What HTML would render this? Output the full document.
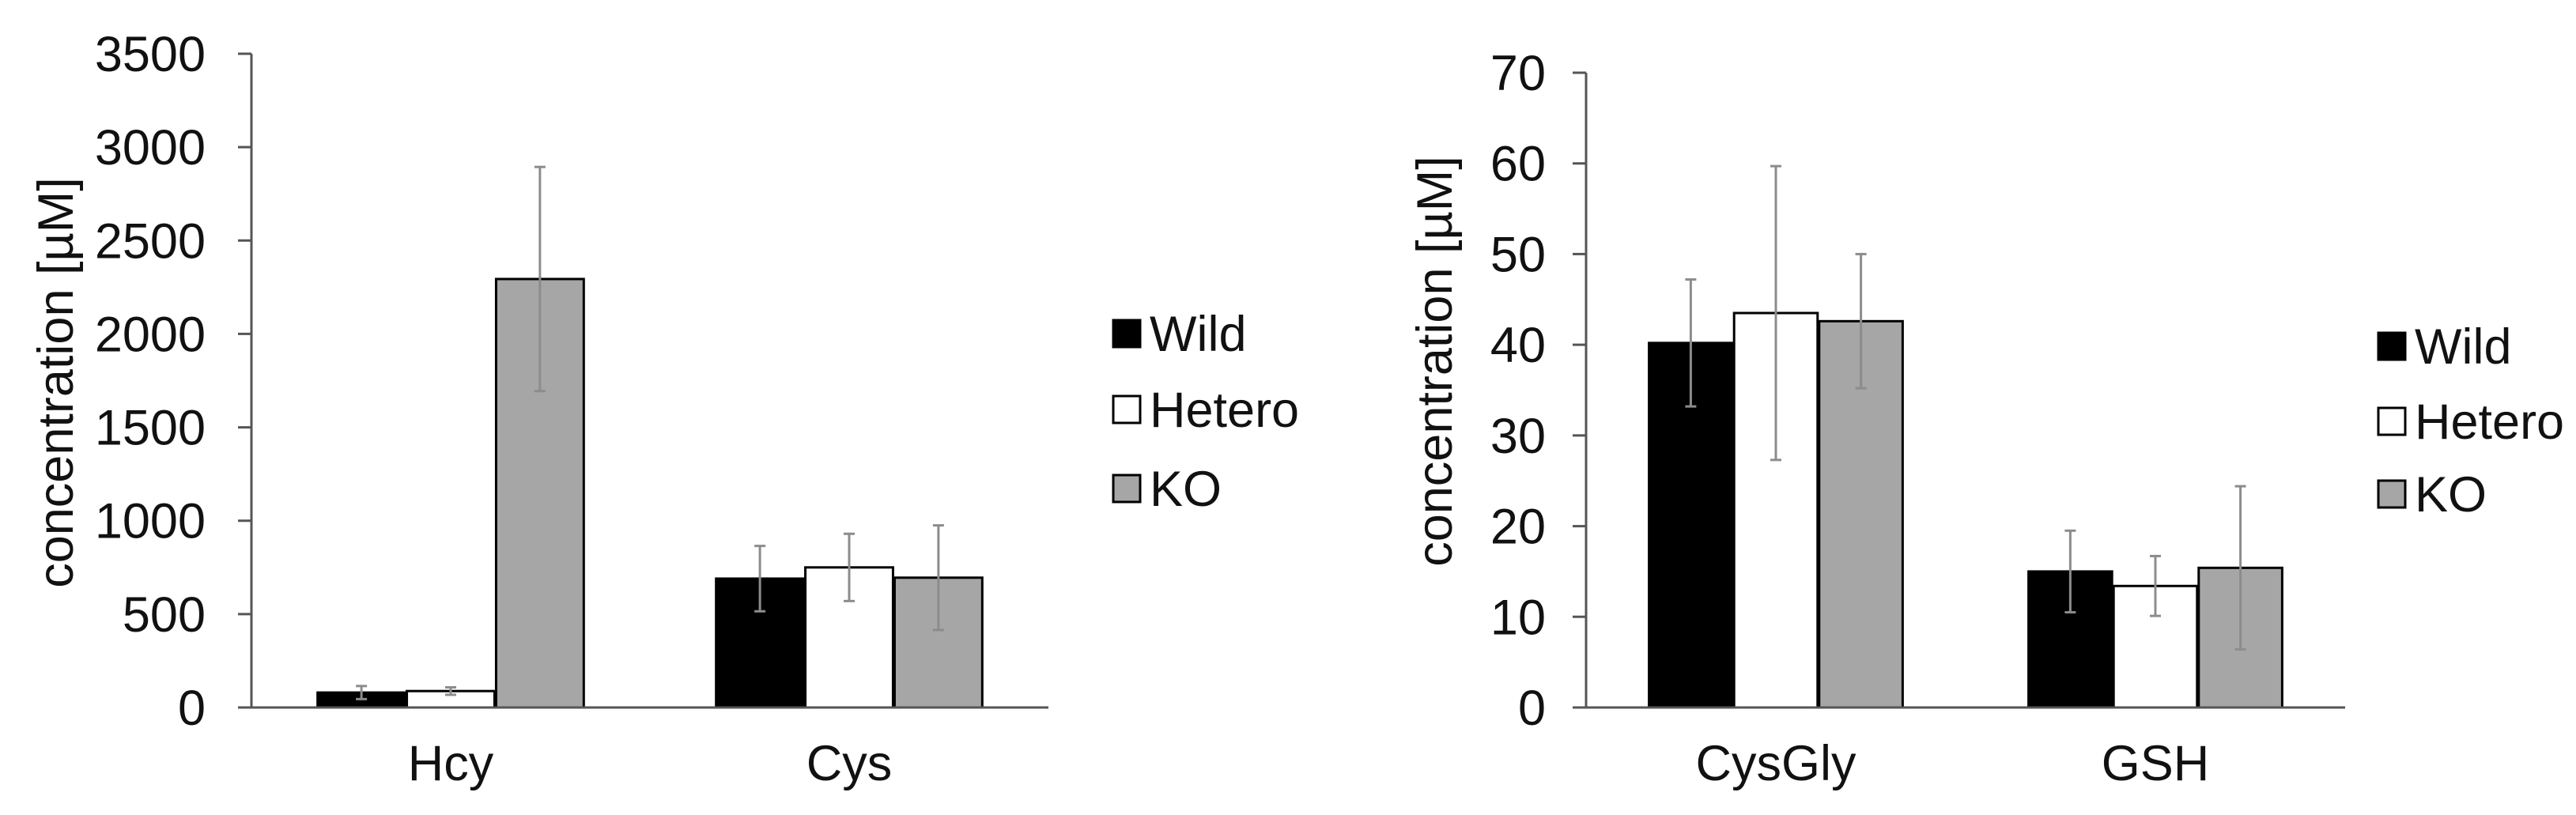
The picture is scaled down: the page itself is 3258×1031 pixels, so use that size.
<!DOCTYPE html>
<html><head><meta charset="utf-8"><style>
html,body{margin:0;padding:0;background:#fff;}
svg{display:block;font-family:"Liberation Sans",Arial,sans-serif;}
</style></head><body>
<svg id="c" width="3258" height="1031" viewBox="0 0 3258 1031" xmlns="http://www.w3.org/2000/svg"></svg>
<script>
const seriesNames = ["Wild","Hetero","KO"];
const seriesFills = ["#000000","#ffffff","#a6a6a6"];
const leftCategories = ["Hcy","Cys"];
const leftWild = [80, 690];
const leftHetero = [88, 750];
const leftKO = [2294, 695];
const leftWildErr = [35, 175];
const leftHeteroErr = [20, 180];
const leftKOErr = [600, 280];
const leftTicks = [0,500,1000,1500,2000,2500,3000,3500];
const rightCategories = ["CysGly","GSH"];
const rightWild = [40.2, 15.0];
const rightHetero = [43.5, 13.4];
const rightKO = [42.6, 15.4];
const rightWildErr = [7.0, 4.5];
const rightHeteroErr = [16.2, 3.3];
const rightKOErr = [7.4, 9.0];
const rightTicks = [0,10,20,30,40,50,60,70];

const svg = document.getElementById('c');
const NS = "http://www.w3.org/2000/svg";
function mk(tag, attrs, parent){
  const e = document.createElementNS(NS, tag);
  for (const k in attrs) e.setAttribute(k, attrs[k]);
  (parent||svg).appendChild(e);
  return e;
}

function drawChart(cfg){
  const g = mk('g', {});
  
  
  const yMax = cfg.ticks[cfg.ticks.length-1];
  const y = v => cfg.y0 - v/yMax*(cfg.y0 - cfg.yTop);
  const catW = (cfg.x1 - cfg.x0)/cfg.cats.length;
  const bw = catW*0.22;
  // ticks
  cfg.ticks.forEach(t=>{
    const tl = mk('line',{x1:cfg.x0-17,x2:cfg.x0,y1:y(t),y2:y(t),stroke:'#555',"stroke-width":3},g);
    
    
    const tx = mk('text',{x:cfg.tickX,y:y(t)+22,"text-anchor":"end","font-size":63,fill:'#111'},g);
    tx.textContent = t;
    
    
  });
  // bars
  const vals = [cfg.wild, cfg.het, cfg.ko];
  const errs = [cfg.wildErr, cfg.hetErr, cfg.koErr];
  cfg.cats.forEach((c,i)=>{
    const cx = cfg.x0 + catW*(i+0.5);
    for (let s=0;s<3;s++){
      const bx = cx + (s-1.5)*bw + (s-1)*2;
      const v = vals[s][i];
      const r = mk('rect',{x:bx,y:y(v),width:bw,height:cfg.y0-y(v),fill:seriesFills[s],stroke:'#000',"stroke-width":3},g);
      
      
    }
    for (let s=0;s<3;s++){
      const bx = cx + (s-1)*bw + (s-1)*2;
      const v = vals[s][i], e = errs[s][i];
      const eg = mk('g',{stroke:'#8c8c8c',"stroke-width":3},g);
      
      
      mk('line',{x1:bx,x2:bx,y1:y(v+e),y2:y(Math.max(0,v-e))},eg);
      mk('line',{x1:bx-7,x2:bx+7,y1:y(v+e),y2:y(v+e)},eg);
      mk('line',{x1:bx-7,x2:bx+7,y1:y(Math.max(0,v-e)),y2:y(Math.max(0,v-e))},eg);
    }
    const ct = mk('text',{x:cx,y:cfg.y0+92,"text-anchor":"middle","font-size":63,fill:'#111'},g);
    ct.textContent = c;
    
    
  });
  // axes
  const ya = mk('line',{x1:cfg.x0,x2:cfg.x0,y1:cfg.yTop,y2:cfg.y0,stroke:'#555',"stroke-width":3},g);
  
  
  const xa = mk('line',{x1:cfg.x0-17,x2:cfg.x1,y1:cfg.y0,y2:cfg.y0,stroke:'#555',"stroke-width":3},g);
  
  
  const ti = mk('text',{x:0,y:0,"text-anchor":"middle","font-size":63,fill:'#111',transform:`translate(${cfg.titleX},${cfg.titleY}) rotate(-90)`},g);
  ti.textContent = 'concentration [µM]';
  
  
  // legend
  seriesNames.forEach((n,s)=>{
    const ly = cfg.legY[s];
    const lg = mk('g',{},g);
    
    
    mk('rect',{x:cfg.legX,y:ly-17,width:34,height:34,fill:seriesFills[s],stroke:'#000',"stroke-width":3},lg);
    const lt = mk('text',{x:cfg.legX+46,y:ly+22,"font-size":63,fill:'#111'},lg);
    lt.textContent = n;
  });
}

drawChart({name:'left-chart',cats:leftCategories,wild:leftWild,het:leftHetero,ko:leftKO,
  wildErr:leftWildErr,hetErr:leftHeteroErr,koErr:leftKOErr,ticks:leftTicks,
  x0:318,x1:1326,y0:895,yTop:68,tickX:260,titleX:92,titleY:484,legX:1408,legY:[422,518,618]});
drawChart({name:'right-chart',cats:rightCategories,wild:rightWild,het:rightHetero,ko:rightKO,
  wildErr:rightWildErr,hetErr:rightHeteroErr,koErr:rightKOErr,ticks:rightTicks,
  x0:2006,x1:2966,y0:895,yTop:92,tickX:1955,titleX:1836,titleY:457,legX:3008,legY:[438,533,625]});
</script>
</body></html>
